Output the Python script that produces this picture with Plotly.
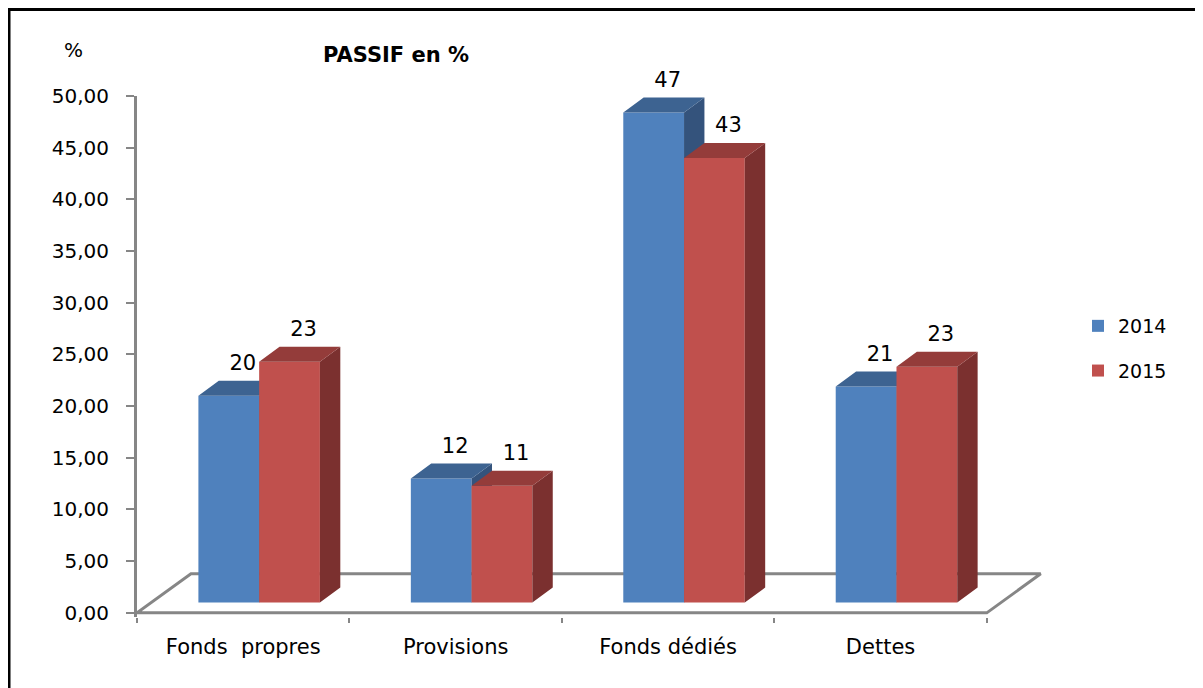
import plotly.graph_objects as go

# ---------------- data ----------------
categories = ["Fonds  propres", "Provisions", "Fonds dédiés", "Dettes"]
years = ["2014", "2015"]
values_2014 = [20.0, 12.0, 47.4, 20.9]
values_2015 = [23.3, 11.3, 43.0, 22.8]
y_tick_values = [0, 5, 10, 15, 20, 25, 30, 35, 40, 45, 50]
y_tick_labels = ["0,00", "5,00", "10,00", "15,00", "20,00", "25,00",
                 "30,00", "35,00", "40,00", "45,00", "50,00"]
title_text = "PASSIF en %"
y_unit_text = "%"

# ---------------- styles / geometry ----------------
W, H = 1203, 688
OFF = 8                      # page body margin
L, R, T, B = 137 - OFF, 161 + OFF, 96 - OFF, 71 + OFF
X_RANGE = [-0.5, 3.76]
Y_RANGE = [-0.4, 50]
BAR_W = 0.286
FRONT_DX = 0.075
FRONT_DY = 1.0
DEPTH_DX = 0.096
DEPTH_DY = 1.45
FLOOR_DX = 0.254
FLOOR_DY = 3.78
LABEL_DX = 0.066
FONT = "DejaVu Sans"
GRAY = "#868686"
colors = {
    "2014": {"front": "#4F81BD", "top": "#3D6391", "side": "#34537C"},
    "2015": {"front": "#C0504D", "top": "#943C3A", "side": "#7B302F"},
}

plot_w = W - L - R
plot_h = H - T - B


def px_x(p):  # screen pixel -> paper
    return (p - OFF - L) / plot_w


def px_y(p):
    return (H - B - (p - OFF)) / plot_h


fig = go.Figure()

# floor
n = len(categories)
fx = [-0.5, n - 0.5, n - 0.5 + FLOOR_DX, -0.5 + FLOOR_DX, -0.5]
fy = [0, 0, FLOOR_DY, FLOOR_DY, 0]
fig.add_trace(go.Scatter(x=fx, y=fy, mode="lines",
                         line=dict(color=GRAY, width=3),
                         showlegend=False, hoverinfo="skip",
                         xaxis="x", yaxis="y"))

series = [("2014", values_2014, -1, "y2"), ("2015", values_2015, 1, "y3")]
for name, vals, sign, yax in series:
    centers = [i + FRONT_DX + sign * BAR_W / 2 for i in range(n)]
    fig.add_trace(go.Bar(x=centers, y=vals, base=FRONT_DY, width=BAR_W,
                         marker=dict(color=colors[name]["front"], line=dict(width=0)),
                         name=name, legendgroup=name, hoverinfo="skip",
                         xaxis="x", yaxis=yax))
    sx, sy, tx, ty = [], [], [], []
    for c, v in zip(centers, vals):
        top = FRONT_DY + v
        xl, xr = c - BAR_W / 2, c + BAR_W / 2
        sx += [xr, xr, xr + DEPTH_DX, xr + DEPTH_DX, xr, None]
        sy += [FRONT_DY, top, top + DEPTH_DY, FRONT_DY + DEPTH_DY, FRONT_DY, None]
        tx += [xl, xr, xr + DEPTH_DX, xl + DEPTH_DX, xl, None]
        ty += [top, top, top + DEPTH_DY, top + DEPTH_DY, top, None]
    fig.add_trace(go.Scatter(x=sx, y=sy, mode="lines", fill="toself",
                             fillcolor=colors[name]["side"], line=dict(width=0),
                             showlegend=False, hoverinfo="skip",
                             xaxis="x", yaxis=yax))
    fig.add_trace(go.Scatter(x=tx, y=ty, mode="lines", fill="toself",
                             fillcolor=colors[name]["top"], line=dict(width=0),
                             showlegend=False, hoverinfo="skip",
                             xaxis="x", yaxis=yax))
    fig.add_trace(go.Scatter(x=[c + LABEL_DX for c in centers],
                             y=[FRONT_DY + v + DEPTH_DY for v in vals],
                             mode="markers+text", text=[f"{v:.0f}" for v in vals],
                             marker=dict(size=7, opacity=0),
                             textposition="top center",
                             textfont=dict(family=FONT, size=21, color="black"),
                             cliponaxis=False, showlegend=False, hoverinfo="skip",
                             xaxis="x", yaxis=yax))

tick_text = [c.replace("  ", " \u00a0") for c in categories]

fig.update_layout(
    width=W, height=H,
    margin=dict(l=L, r=R, t=T, b=B, autoexpand=False),
    paper_bgcolor="white", plot_bgcolor="rgba(0,0,0,0)",
    font=dict(family=FONT, size=20, color="black"),
    barmode="overlay",
    showlegend=True,
    legend=dict(x=px_x(1078), y=px_y(307), xanchor="left", yanchor="top",
                font=dict(family=FONT, size=19, color="black"),
                tracegroupgap=17, bgcolor="rgba(0,0,0,0)", borderwidth=0),
    xaxis=dict(range=X_RANGE, showgrid=False, zeroline=False, showline=False,
               tickmode="array", tickvals=list(range(n)), ticktext=tick_text,
               ticks="", ticklabelstandoff=15,
               tickfont=dict(family=FONT, size=21, color="black"),
               minor=dict(tickmode="array",
                          tickvals=[i - 0.5 for i in range(n + 1)],
                          ticks="outside", ticklen=5, tickwidth=2,
                          tickcolor=GRAY, showgrid=False),
               fixedrange=True),
    yaxis=dict(range=Y_RANGE, showgrid=False, zeroline=False,
               showline=True, linecolor=GRAY, linewidth=3,
               tickmode="array", tickvals=y_tick_values, ticktext=y_tick_labels,
               ticks="outside", ticklen=8, tickwidth=2, tickcolor=GRAY,
               ticklabelstandoff=13,
               tickfont=dict(family=FONT, size=20, color="black"),
               fixedrange=True),
    yaxis2=dict(range=Y_RANGE, overlaying="y", visible=False, fixedrange=True),
    yaxis3=dict(range=Y_RANGE, overlaying="y", visible=False, fixedrange=True),
    shapes=[dict(type="rect", xref="paper", yref="paper",
                 x0=px_x(9), y0=px_y(720), x1=px_x(1240), y1=px_y(9.5),
                 line=dict(color="black", width=3), fillcolor="rgba(0,0,0,0)",
                 layer="above")],
    annotations=[
        dict(text=f"<b>{title_text}</b>", xref="paper", yref="paper",
             x=px_x(396), y=px_y(55), xanchor="center", yanchor="middle",
             showarrow=False, font=dict(family=FONT, size=21, color="black")),
        dict(text=y_unit_text, xref="paper", yref="paper",
             x=px_x(73), y=px_y(50), xanchor="center", yanchor="middle",
             showarrow=False, font=dict(family=FONT, size=20, color="black")),
    ],
)

fig.write_html("out.html")
